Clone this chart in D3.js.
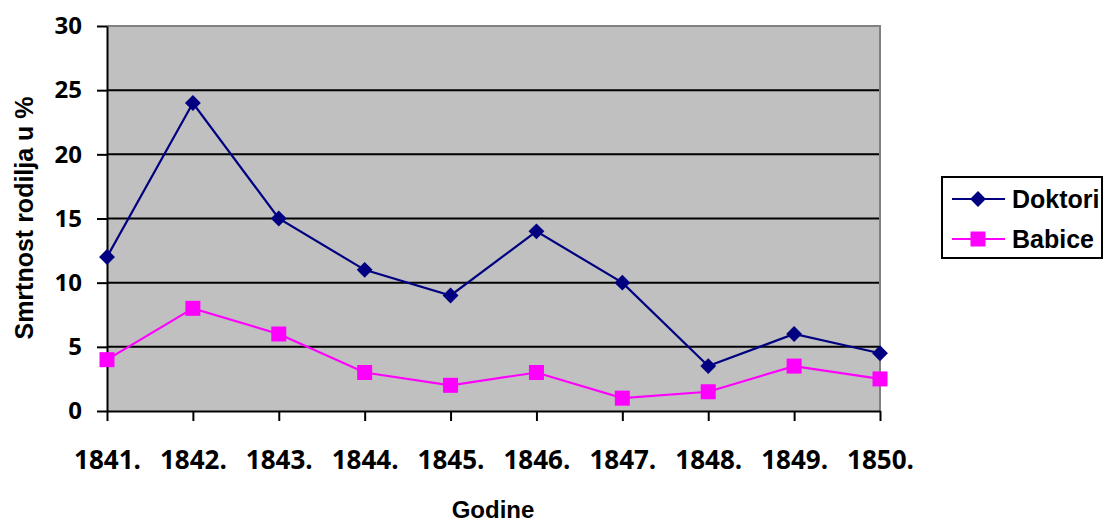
<!DOCTYPE html>
<html>
<head>
<meta charset="utf-8">
<script src="https://cdn.jsdelivr.net/npm/d3@7"></script>
<style>
  body { margin: 0; background: #fff; }
</style>
</head>
<body>
<svg id="chart" width="1105" height="523"></svg>
<script>
// data
var years = ["1841.", "1842.", "1843.", "1844.", "1845.", "1846.", "1847.", "1848.", "1849.", "1850."];
var doktori = [12, 24, 15, 11, 9, 14, 10, 3.5, 6, 4.5];
var babice = [4, 8, 6, 3, 2, 3, 1, 1.5, 3.5, 2.5];
var yTicks = [0, 5, 10, 15, 20, 25, 30];

var plotL = 107, plotR = 880, plotT = 26, plotB = 411;
var svg = d3.select("#chart");

var x = d3.scalePoint().domain(years).range([plotL, plotR]).padding(0);
var y = d3.scaleLinear().domain([0, 30]).range([plotB, plotT]);

// plot background
svg.append("rect")
  .attr("x", plotL).attr("y", plotT)
  .attr("width", plotR - plotL).attr("height", plotB - plotT)
  .attr("fill", "#c0c0c0");

// gridlines
svg.append("g").selectAll("line")
  .data(yTicks.filter(function(d) { return d > 0 && d < 30; }))
  .enter().append("line")
  .attr("x1", plotL).attr("x2", plotR)
  .attr("y1", function(d) { return y(d); })
  .attr("y2", function(d) { return y(d); })
  .attr("stroke", "#000").attr("stroke-width", 2);

// top and right border of plot area
svg.append("path")
  .attr("d", "M" + plotL + "," + plotT + "H" + plotR + "V" + plotB)
  .attr("fill", "none").attr("stroke", "#808080").attr("stroke-width", 2);

// y axis
var yAxis = svg.append("g")
  .attr("transform", "translate(" + plotL + ",0)")
  .call(d3.axisLeft(y).tickValues(yTicks).tickSize(10).tickSizeOuter(0).tickPadding(15));
yAxis.select(".domain").attr("stroke-width", 2);
yAxis.selectAll(".tick line").attr("stroke-width", 2);
yAxis.selectAll("text")
  .style("font-family", "Open Sans, sans-serif")
  .style("font-weight", "bold")
  .style("font-size", "24px")
  .attr("fill", "#000");

// x axis
var xAxis = svg.append("g")
  .attr("transform", "translate(0," + plotB + ")")
  .call(d3.axisBottom(x).tickSize(10).tickSizeOuter(0).tickPadding(30));
xAxis.select(".domain").attr("stroke-width", 2);
xAxis.selectAll(".tick line").attr("stroke-width", 2);
xAxis.selectAll("text")
  .style("font-family", "Open Sans, sans-serif")
  .style("font-weight", "bold")
  .style("font-size", "26px")
  .attr("fill", "#000");

// lines
var line = d3.line()
  .x(function(d, i) { return x(years[i]); })
  .y(function(d) { return y(d); });

svg.append("path").datum(doktori)
  .attr("d", line).attr("fill", "none")
  .attr("stroke", "#000080").attr("stroke-width", 2.2);
svg.append("path").datum(babice)
  .attr("d", line).attr("fill", "none")
  .attr("stroke", "#ff00ff").attr("stroke-width", 2.2);

var diamond = d3.symbol().type(d3.symbolDiamond2).size(160);

svg.append("g").selectAll("path")
  .data(doktori).enter().append("path")
  .attr("d", diamond)
  .attr("transform", function(d, i) { return "translate(" + x(years[i]) + "," + y(d) + ")"; })
  .attr("fill", "#000080");

svg.append("g").selectAll("rect")
  .data(babice).enter().append("rect")
  .attr("x", function(d, i) { return x(years[i]) - 7.5; })
  .attr("y", function(d) { return y(d) - 7.5; })
  .attr("width", 15).attr("height", 15)
  .attr("fill", "#ff00ff");

// axis titles
svg.append("text")
  .attr("x", 493).attr("y", 518)
  .attr("text-anchor", "middle")
  .style("font-family", "Liberation Sans, Arial, sans-serif")
  .style("font-weight", "bold")
  .style("font-size", "24px")
  .text("Godine");

svg.append("text")
  .attr("transform", "translate(33,218) rotate(-90)")
  .attr("text-anchor", "middle")
  .style("font-family", "Liberation Sans, Arial, sans-serif")
  .style("font-weight", "bold")
  .style("font-size", "25px")
  .text("Smrtnost rodilja u %");

// legend
var legend = svg.append("g");
legend.append("rect")
  .attr("x", 942).attr("y", 177)
  .attr("width", 160).attr("height", 81)
  .attr("fill", "#fff").attr("stroke", "#000").attr("stroke-width", 2);

var legendItems = [
  { name: "Doktori", color: "#000080", marker: "diamond", yy: 199 },
  { name: "Babice", color: "#ff00ff", marker: "square", yy: 239 }
];
legendItems.forEach(function(item) {
  legend.append("line")
    .attr("x1", 952).attr("x2", 1005)
    .attr("y1", item.yy).attr("y2", item.yy)
    .attr("stroke", item.color).attr("stroke-width", 2);
  if (item.marker === "diamond") {
    legend.append("path")
      .attr("d", diamond)
      .attr("transform", "translate(978," + item.yy + ")")
      .attr("fill", item.color);
  } else {
    legend.append("rect")
      .attr("x", 970.5).attr("y", item.yy - 7.5)
      .attr("width", 15).attr("height", 15)
      .attr("fill", item.color);
  }
  legend.append("text")
    .attr("x", 1012).attr("y", item.yy + 9)
    .style("font-family", "Liberation Sans, Arial, sans-serif")
    .style("font-weight", "bold")
    .style("font-size", "25px")
    .text(item.name);
});
</script>
</body>
</html>
